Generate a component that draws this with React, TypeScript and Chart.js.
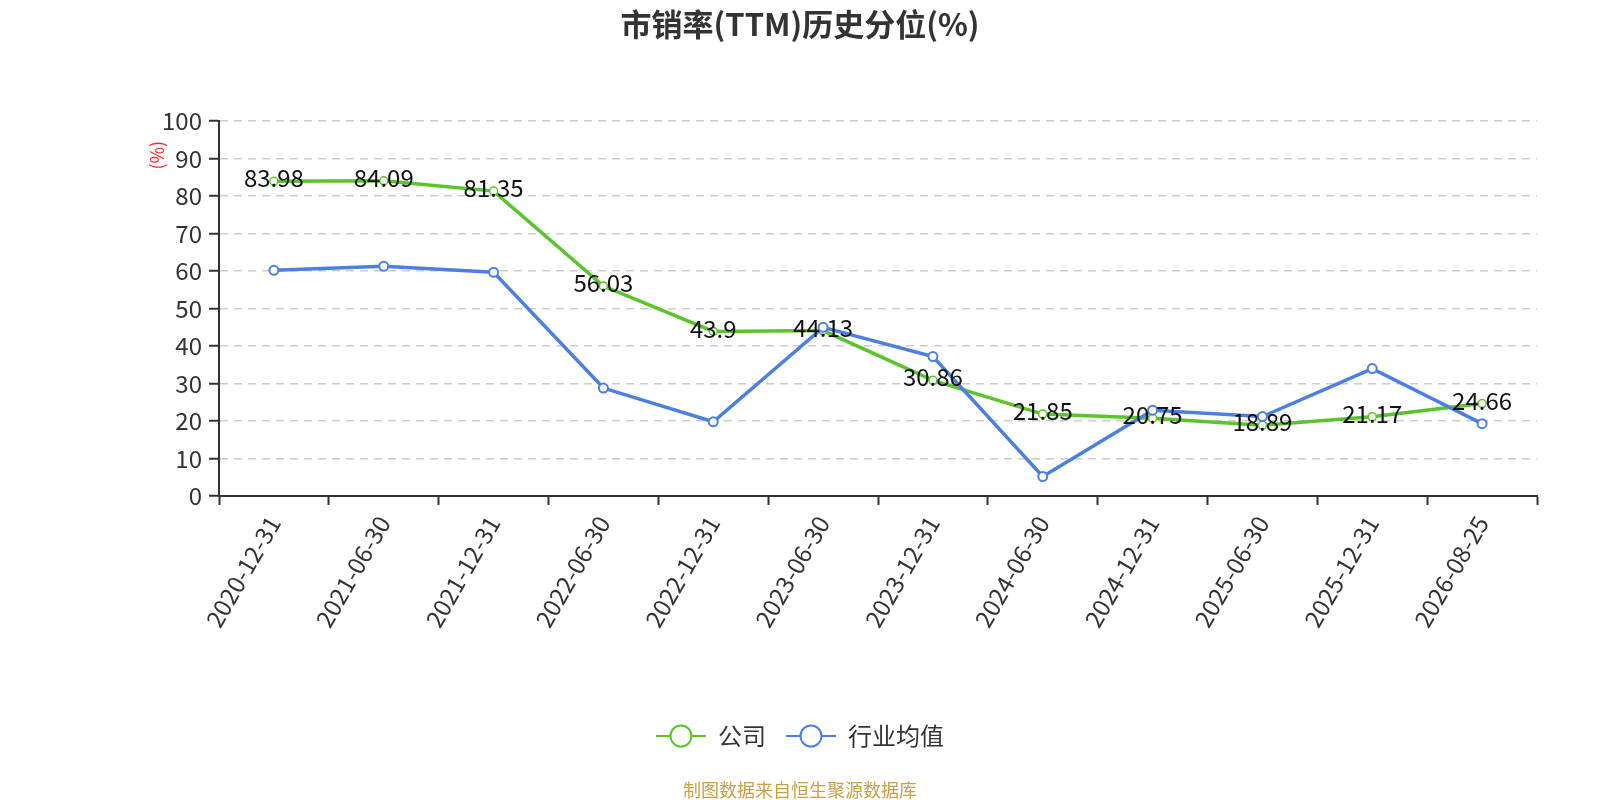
import { useEffect, useRef } from 'react'
import { Chart, registerables } from 'chart.js'

Chart.register(...registerables)

const categories = [
  '2020-12-31', '2021-06-30', '2021-12-31', '2022-06-30', '2022-12-31', '2023-06-30',
  '2023-12-31', '2024-06-30', '2024-12-31', '2025-06-30', '2025-12-31', '2026-08-25',
]
const companyValues = [83.98, 84.09, 81.35, 56.03, 43.9, 44.13, 30.86, 21.85, 20.75, 18.89, 21.17, 24.66]
const industryValues = [60.2, 61.3, 59.7, 28.8, 19.8, 45.0, 37.2, 5.2, 22.9, 21.2, 34.0, 19.3]
const yTicks = [0, 10, 20, 30, 40, 50, 60, 70, 80, 90, 100]

const GREEN = '#5ac42a'
const BLUE = '#4c80e0'
const FONT = '"Noto Sans CJK SC", "Noto Sans", sans-serif'

// legend marker: short line with a hollow circle on it
function legendIcon(color: string) {
  const c = document.createElement('canvas')
  c.width = 50
  c.height = 26
  const g = c.getContext('2d')!
  g.strokeStyle = color
  g.lineWidth = 2
  g.beginPath()
  g.moveTo(0, 13)
  g.lineTo(50, 13)
  g.stroke()
  g.fillStyle = '#fff'
  g.beginPath()
  g.arc(25, 13, 10.5, 0, Math.PI * 2)
  g.fill()
  g.stroke()
  return c
}

const extras = {
  id: 'extras',
  afterDatasetsDraw(chart: any) {
    const { ctx, chartArea } = chart
    const meta = chart.getDatasetMeta(0)
    ctx.save()
    ctx.font = `24px ${FONT}`
    ctx.fillStyle = '#111'
    ctx.textAlign = 'center'
    ctx.textBaseline = 'middle'
    meta.data.forEach((pt: any, i: number) => {
      ctx.fillText(String(companyValues[i]), pt.x, pt.y - 3)
    })
    ctx.restore()

    ctx.save()
    ctx.translate(chartArea.left - 62, chartArea.top + 34)
    ctx.rotate(-Math.PI / 2)
    ctx.font = `18px ${FONT}`
    ctx.fillStyle = '#ff2a2a'
    ctx.textAlign = 'center'
    ctx.textBaseline = 'middle'
    ctx.fillText('(%)', 0, 0)
    ctx.restore()

    ctx.save()
    ctx.font = `18px ${FONT}`
    ctx.fillStyle = '#c9a046'
    ctx.textAlign = 'center'
    ctx.textBaseline = 'middle'
    ctx.fillText('制图数据来自恒生聚源数据库', chart.width / 2, chart.height - 10)
    ctx.restore()
  },
}

export default function App() {
  const canvasRef = useRef<HTMLCanvasElement | null>(null)

  useEffect(() => {
    document.body.style.margin = '0'
    const ctx = canvasRef.current?.getContext('2d')
    if (!ctx) return
    const icons = [legendIcon(GREEN), legendIcon(BLUE)]

    const chart = new Chart(ctx, {
      type: 'line',
      data: {
        labels: categories,
        datasets: [
          {
            label: '公司',
            data: companyValues,
            borderColor: GREEN,
            backgroundColor: '#fff',
            borderWidth: 3.5,
            pointRadius: 4,
            pointBorderWidth: 1.5,
            pointBackgroundColor: '#fff',
            pointBorderColor: GREEN,
            tension: 0,
            order: 1,
          },
          {
            label: '行业均值',
            data: industryValues,
            borderColor: BLUE,
            backgroundColor: '#fff',
            borderWidth: 3.5,
            pointRadius: 4.5,
            pointBorderWidth: 2,
            pointBackgroundColor: '#fff',
            pointBorderColor: BLUE,
            tension: 0,
            order: 0,
          },
        ],
      },
      options: {
        responsive: false,
        animation: false,
        events: [],
        layout: { padding: { left: 0, right: 0, top: 0, bottom: 42 } },
        plugins: {
          tooltip: { enabled: false },
          title: {
            display: true,
            text: '市销率(TTM)历史分位(%)',
            color: '#333',
            font: { family: FONT, size: 31, weight: 'bold' },
            padding: { top: 6, bottom: 78 },
          },
          legend: {
            position: 'bottom',
            labels: {
              usePointStyle: true,
              pointStyleWidth: 50,
              padding: 20,
              color: '#333',
              font: { family: FONT, size: 24 },
              sort: (a: any, b: any) => a.datasetIndex - b.datasetIndex,
              generateLabels: (c: any) =>
                Chart.defaults.plugins.legend.labels.generateLabels(c).map((item: any) => ({
                  ...item,
                  pointStyle: icons[item.datasetIndex],
                })),
            },
          },
        },
        scales: {
          x: {
            type: 'category',
            offset: true,
            afterFit: (s: any) => {
              s.height = 208
            },
            border: { display: true, color: '#333', width: 2 },
            grid: {
              display: true,
              offset: true,
              drawOnChartArea: false,
              drawTicks: true,
              tickLength: 9,
              tickColor: '#333',
              tickWidth: 2,
            },
            ticks: {
              color: '#333',
              font: { family: FONT, size: 24 },
              minRotation: 60,
              maxRotation: 60,
              padding: 6,
              autoSkip: false,
            },
          },
          y: {
            min: 0,
            max: 100,
            afterFit: (s: any) => {
              s.width = 219
            },
            afterBuildTicks: (s: any) => {
              s.ticks = yTicks.map((v) => ({ value: v }))
            },
            border: { display: true, color: '#333', width: 2, dash: [8, 6] },
            grid: {
              color: '#cccccc',
              lineWidth: 1.5,
              tickBorderDash: [],
              tickLength: 10,
              tickColor: '#333',
              tickWidth: 2,
            },
            ticks: {
              color: '#333',
              font: { family: FONT, size: 24 },
              padding: 7,
            },
          },
          // empty right-hand spacer so the plot ends where the reference does
          spacer: {
            type: 'linear',
            position: 'right',
            display: true,
            afterFit: (s: any) => {
              s.width = 63
            },
            border: { display: false },
            grid: { display: false },
            ticks: { display: false },
          },
        },
      },
      plugins: [extras],
    })

    return () => chart.destroy()
  }, [])

  return <canvas ref={canvasRef} width={1600} height={800} style={{ display: 'block' }} />
}
